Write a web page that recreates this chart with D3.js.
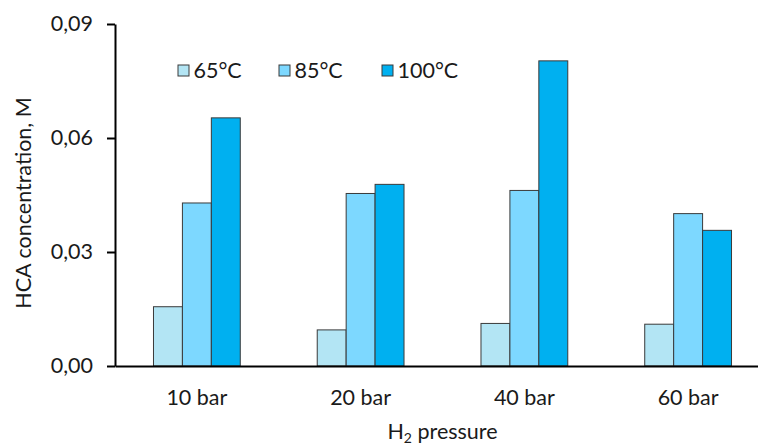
<!DOCTYPE html>
<html>
<head>
<meta charset="utf-8">
<script src="https://cdn.jsdelivr.net/npm/d3@7"></script>
<style>
  html, body { margin: 0; padding: 0; background: #fff; }
  svg { display: block; }
  text { font-family: Lato, "Open Sans", sans-serif; fill: #1a1a1a; }
</style>
</head>
<body>
<svg id="chart" width="758" height="445"></svg>
<script>
// H2 pressure categories and HCA concentration (M) per temperature
const categories = ["10 bar", "20 bar", "40 bar", "60 bar"];
const seriesNames = ["65°C", "85°C", "100°C"];
const values65 = [0.0156, 0.0095, 0.0112, 0.0110];
const values85 = [0.0429, 0.0454, 0.0462, 0.0401];
const values100 = [0.0653, 0.0478, 0.0803, 0.0357];
const yTicks = [0, 0.03, 0.06, 0.09];
const colors = ["#b3e5f4", "#7dd8ff", "#00b0f0"];

const seriesValues = [values65, values85, values100];

const svg = d3.select("#chart");
const fontSize = 21.5;

const x0 = d3.scaleBand()
  .domain(categories)
  .range([115, 770])
  .paddingInner(0.47)
  .paddingOuter(0.235);

const x1 = d3.scaleBand()
  .domain(seriesNames)
  .range([0, x0.bandwidth()]);

const y = d3.scaleLinear()
  .domain([0, 0.09])
  .range([366, 24]);

const fmt = v => d3.format(".2f")(v).replace(".", ",");

// bars
const groups = svg.append("g")
  .selectAll("g")
  .data(categories)
  .join("g")
  .attr("transform", d => `translate(${x0(d)},0)`);

groups.selectAll("rect")
  .data((c, i) => seriesNames.map((s, j) => ({ s, j, v: seriesValues[j][i] })))
  .join("rect")
  .attr("x", d => x1(d.s))
  .attr("y", d => y(d.v))
  .attr("width", x1.bandwidth())
  .attr("height", d => y(0) - y(d.v))
  .attr("fill", d => colors[d.j])
  .attr("stroke", "#3a3a3a")
  .attr("stroke-width", 1);

// y axis
const yAxis = svg.append("g")
  .attr("transform", "translate(115,0)")
  .call(d3.axisLeft(y).tickValues(yTicks).tickFormat(fmt).tickSize(8).tickSizeOuter(0).tickPadding(14));
yAxis.select(".domain").attr("stroke", "#000").attr("stroke-width", 2);
yAxis.selectAll(".tick line").attr("stroke", "#000").attr("stroke-width", 2);
yAxis.selectAll(".tick text")
  .attr("font-size", fontSize)
  .attr("font-family", "Lato, sans-serif")
  .attr("fill", "#1a1a1a");

// x axis
const xAxis = svg.append("g")
  .attr("transform", `translate(0,${y(0)})`)
  .call(d3.axisBottom(x0).tickSize(0).tickPadding(24));
xAxis.select(".domain").attr("stroke", "#000").attr("stroke-width", 2);
xAxis.selectAll(".tick text")
  .attr("font-size", fontSize)
  .attr("font-family", "Lato, sans-serif")
  .attr("fill", "#1a1a1a");

// axis titles
const xt = svg.append("text")
  .attr("x", (x0.range()[0] + x0.range()[1]) / 2)
  .attr("y", 439)
  .attr("text-anchor", "middle")
  .attr("font-size", fontSize);
xt.append("tspan").text("H");
xt.append("tspan").attr("font-size", 14).attr("dy", 4).text("2");
xt.append("tspan").attr("dy", -4).text(" pressure");

svg.append("text")
  .attr("transform", `translate(31,${(y.range()[0] + y.range()[1]) / 2 + 8}) rotate(-90)`)
  .attr("text-anchor", "middle")
  .attr("font-size", fontSize)
  .text("HCA concentration, M");

// legend
const legendX = [178, 279, 382];
const legend = svg.append("g")
  .selectAll("g")
  .data(seriesNames)
  .join("g")
  .attr("transform", (d, i) => `translate(${legendX[i]},65)`);
legend.append("rect")
  .attr("width", 11)
  .attr("height", 11)
  .attr("fill", (d, i) => colors[i])
  .attr("stroke", "#3a3a3a")
  .attr("stroke-width", 1);
legend.append("text")
  .attr("x", 15.5)
  .attr("y", 12.5)
  .attr("font-size", fontSize)
  .text(d => d);
</script>
</body>
</html>
